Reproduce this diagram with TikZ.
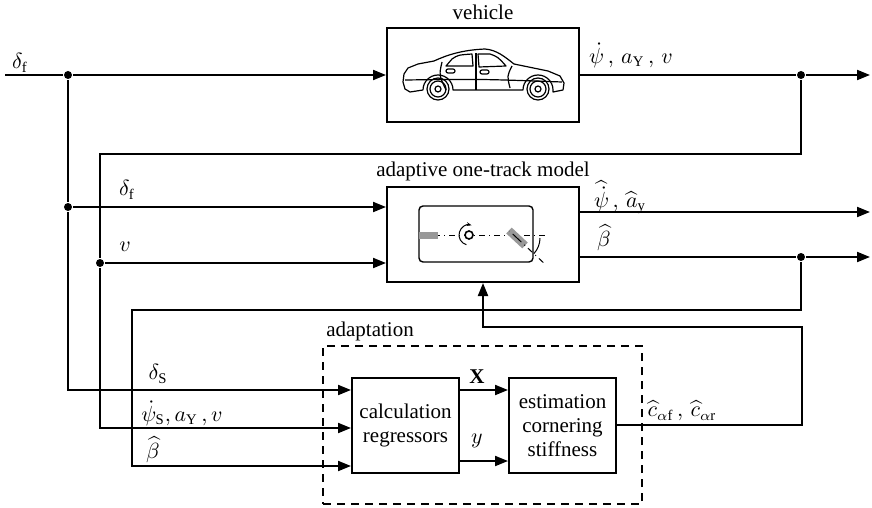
\documentclass[tikz,border=0pt]{standalone}
\usepackage{amsmath}
\usepackage{fontspec}
\setmainfont{Liberation Serif}
\usetikzlibrary{arrows.meta}

\begin{document}
\begin{tikzpicture}[x=0.5pt,y=-0.5pt,line width=1pt,
    font=\fontsize{10.5}{12}\selectfont,
    block/.style={draw,line width=1pt,inner sep=0pt,align=center},
    sig/.style={-{Triangle[length=6.5pt,width=5pt]}},
    junc/.style={circle,fill,inner sep=0pt,minimum size=4pt},
    thin line/.style={line width=0.5pt}]
\useasboundingbox (0,0) rectangle (872,508);

% blocks
\node[block,minimum width=96pt,minimum height=47pt] (veh) at (483,75) {};
\node[block,minimum width=96pt,minimum height=47.5pt] (model) at (483,234.5) {};
\node[block,minimum width=53.5pt,minimum height=47.5pt] (regr) at (405.5,425.5) {calculation\\regressors};
\node[block,minimum width=53.5pt,minimum height=47.5pt] (est) at (562.5,425.5) {estimation\\cornering\\stiffness};
\node[draw,line width=0.75pt,dash pattern=on 4pt off 3pt,minimum width=159.5pt,minimum height=79pt] (adapt) at (482.5,425) {};

\node (vehtitle)   at (483,12)  {vehicle};
\node (modeltitle) at (483,171) {adaptive one-track model};
\node (adapttitle) at (370,331) {adaptation};

% car in the vehicle block
\begin{scope}[line width=0.6pt,line join=round]
  \draw (423,90) -- (410,92) -- (405,89) -- (403,82) -- (404,74) -- (408,68) -- (418,64) -- (434,61)
    .. controls (447,55) and (462,50) .. (485,49)
    .. controls (497,50) and (505,57) .. (514,64) -- (548,71) -- (560,76) -- (564,83) -- (563,90) -- (553,92)
    -- (553,90) arc[start angle=0,end angle=180,radius=7.5pt] -- (453,90)
    arc[start angle=0,end angle=180,radius=7.5pt];
  \draw (446,66) -- (452,59) .. controls (458,55) .. (472,54) -- (473,66) -- cycle;
  \draw (478,54) -- (490,54) .. controls (498,57) .. (506,66) -- (479,67) -- cycle;
  \draw (476,53) -- (476,90);
  \draw (442,62) .. controls (439,75) .. (446,90);
  \draw (512,66) .. controls (507,76) .. (510,88);
  \draw (405,80) .. controls (480,79) .. (562,82);
  \draw[rounded corners=1pt] (446,69) rectangle (455,73);
  \draw[rounded corners=1pt] (480,70) rectangle (489,74);
  \foreach \wx in {438,538} {
    \draw (\wx,89) circle[radius=5.5pt];
    \draw (\wx,89) circle[radius=4pt];
    \draw (\wx,89) circle[radius=1.5pt];
  }
\end{scope}

% one-track sketch in the model block
\draw[line width=0.7pt,rounded corners=2pt] (419,206) rectangle (533,262);
\draw[thin line,dash dot] (419,235) -- (547,235);
\fill[gray!80] (419,231.5) rectangle (438,238.5);
\node[fill=gray!80,rotate=-43,minimum width=11pt,minimum height=4pt,inner sep=0pt] (fwheel) at (517,238) {};
\draw[thin line,dash dot] (fwheel.center) -- ++(137:5pt) (fwheel.center) -- ++(-43:18pt);
\draw[thin line] (fwheel.center) ++(0:11.5pt) arc[start angle=0,end angle=-43,radius=11.5pt];
\node[draw,circle,line width=0.8pt,fill=white,inner sep=0pt,minimum size=4pt] (cog) at (469,235) {};
\draw[thin line,{Stealth[length=2.5pt]}-] (cog.center) ++(75:5pt) arc[start angle=75,end angle=255,radius=5pt];

% junctions and corners
\coordinate (src) at (5,75);
\node[junc] (j1) at (68,75) {};
\node[junc] (j2) at (68,207) {};
\node[junc] (j3) at (801,75) {};
\node[junc] (j4) at (100,263) {};
\node[junc] (j5) at (801,257) {};
\coordinate (out1) at (870,75);
\coordinate (out2) at (870,212);
\coordinate (out3) at (870,257);
\coordinate (c1) at (68,390);
\coordinate (c2) at (801,154);
\coordinate (c3) at (100,154);
\coordinate (c4) at (100,428);
\coordinate (c5) at (801,310);
\coordinate (c6) at (132,310);
\coordinate (c7) at (132,466);
\coordinate (c8) at (802,425);
\coordinate (c9) at (802,327);
\coordinate (c10) at (483,327);
\coordinate (cy) at (484,461);

% signals
\draw (src) -- (j1);
\draw[sig] (j1) -- (veh.west);
\draw (veh.east) -- (j3);
\draw[sig] (j3) -- (out1);
\draw (j1) -- (j2);
\draw[sig] (j2) -- (model.west |- j2);
\draw[sig] (j2) -- (c1) -- (regr.west |- c1);
\draw (j3) -- (c2) -- (c3) -- (j4);
\draw[sig] (j4) -- (model.west |- j4);
\draw[sig] (j4) -- (c4) -- (regr.west |- c4);
\draw[sig] (model.east |- out2) -- (out2);
\draw (model.east |- j5) -- (j5);
\draw[sig] (j5) -- (out3);
\draw[sig] (j5) -- (c5) -- (c6) -- (c7) -- (regr.west |- c7);
\draw[sig] (regr.east |- c1) -- (est.west |- c1);
\draw[sig] (regr.east |- cy) -- (est.west |- cy);
\draw[sig] (est.east |- c8) -- (c8) -- (c9) -- (c10) -- (model.south);

% signal labels
\node (ldf)   at (20,63)   {$\delta_{\mathrm{f}}$};
\node (lveh)  at (631,55)  {$\dot{\psi}\,,\,a_{\mathrm{Y}}\,,\,v$};
\node (ldfm)  at (127,190) {$\delta_{\mathrm{f}}$};
\node (lvm)   at (125,247) {$v$};
\node (lmod)  at (620,197) {$\widehat{\dot{\psi}}\,,\,\widehat{a}_{\mathrm{y}}$};
\node (lbeta) at (604,238) {$\widehat{\beta}$};
\node (lds)   at (158,374) {$\delta_{\mathrm{S}}$};
\node (lmeas) at (182,413) {$\dot{\psi}_{\mathrm{S}}, a_{\mathrm{Y}}\,, v$};
\node (lbr)   at (153,450) {$\widehat{\beta}$};
\node (lX)    at (477,377) {$\mathbf{X}$};
\node (ly)    at (477,441) {$y$};
\node (lc)    at (682,411) {$\widehat{c}_{\alpha\mathrm{f}}\,,\,\widehat{c}_{\alpha\mathrm{r}}$};
\end{tikzpicture}
\end{document}
